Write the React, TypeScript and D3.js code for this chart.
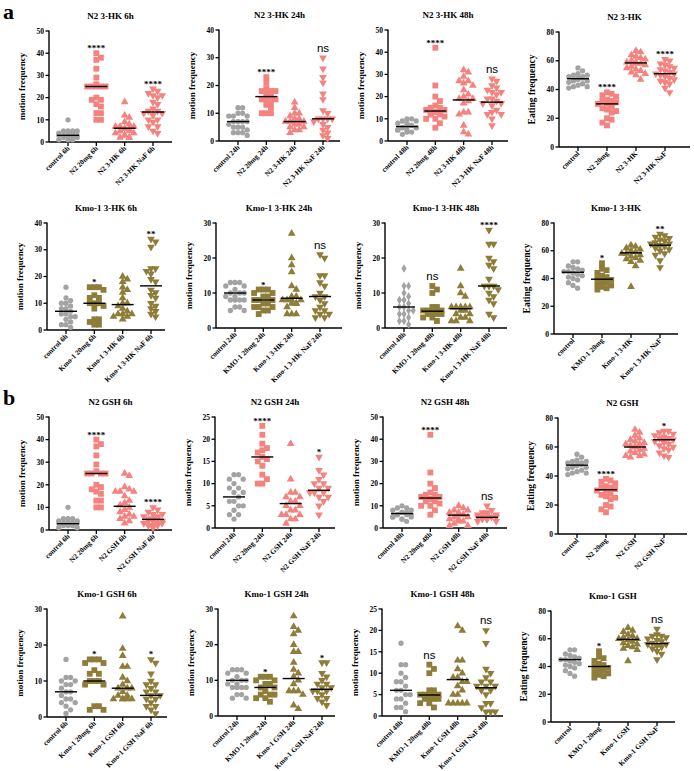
import * as d3 from "d3";

// ---- panel a, N2 3-HK ----
const n2Hk6hCats = ["control 6h", "N2 20mg 6h", "N2 3-HK 6h", "N2 3-HK NaF 6h"];
const n2Hk6hVals = [
  [10, 5, 5, 5, 5, 4, 4, 4, 3, 3, 3, 3, 3, 2, 2, 2, 2, 1, 1, 1],
  [40, 38, 37, 33, 29, 26, 25, 25, 25, 25, 25, 20, 19, 19, 17, 16, 13, 13, 10, 10],
  [18, 12, 11, 9, 8, 7, 7, 7, 6, 6, 6, 5, 5, 4, 4, 3, 3, 2, 2, 2],
  [24, 23, 22, 21, 21, 20, 18, 17, 15, 14, 14, 13, 13, 12, 10, 10, 9, 7, 7, 5, 4],
];
const n2Hk6hMed = [3, 25, 6.2, 13.5];
const n2Hk6hSig = ["", "****", "", "****"];

const n2Hk24hCats = ["control 24h", "N2 20mg 24h", "N2 3-HK 24h", "N2 3-HK NaF 24h"];
const n2Hk24hVals = [
  [12, 12, 10, 10, 9, 9, 9, 7, 7, 7, 7, 6, 5, 5, 5, 4, 3, 3, 3, 2],
  [23, 21, 19, 18, 18, 18, 17, 16, 15, 15, 15, 14, 13, 12, 10, 10, 10],
  [14, 12, 10, 10, 9, 8, 8, 7, 7, 7, 7, 6, 6, 5, 5, 4, 4, 3],
  [30, 26, 23, 21, 17, 15, 11, 10, 8, 8, 8, 8, 7, 6, 5, 4, 3, 2, 1],
];
const n2Hk24hMed = [7, 16, 7, 8];
const n2Hk24hSig = ["", "****", "", "ns"];

const n2Hk48hCats = ["control 48h", "N2 20mg 48h", "N2 3-HK 48h", "N2 3-HK NaF 48h"];
const n2Hk48hVals = [
  [10, 10, 9, 9, 8, 8, 7, 7, 7, 6, 6, 6, 6, 5, 5, 5, 4, 4, 3],
  [42, 25, 20, 18, 16, 15, 15, 14, 14, 13, 13, 13, 12, 12, 12, 11, 10, 10, 8, 6],
  [32, 31, 29, 27, 27, 26, 25, 23, 21, 20, 19, 19, 18, 17, 13, 13, 12, 7, 4, 3],
  [28, 27, 25, 24, 23, 22, 22, 21, 19, 19, 18, 17, 17, 16, 14, 13, 12, 12, 10, 7],
];
const n2Hk48hMed = [6.5, 13.5, 18.5, 17.5];
const n2Hk48hSig = ["", "****", "", "ns"];

const n2HkEatCats = ["control", "N2 20mg", "N2 3-HK", "N2 3-HK NaF"];
const n2HkEatVals = [
  [55, 53, 51, 50, 50, 49, 49, 48, 48, 47, 47, 46, 46, 45, 44, 43, 42, 42, 41],
  [38, 37, 36, 35, 33, 32, 32, 31, 30, 30, 28, 27, 26, 25, 24, 20, 19, 17, 15],
  [67, 66, 64, 63, 62, 61, 60, 59, 59, 58, 58, 57, 56, 55, 54, 53, 52, 51, 50, 47],
  [61, 60, 58, 57, 56, 55, 54, 53, 52, 51, 51, 50, 49, 48, 47, 46, 45, 44, 41, 38],
];
const n2HkEatMed = [47.5, 30, 58.5, 51];
const n2HkEatSig = ["", "****", "", "****"];

// ---- panel a, Kmo-1 3-HK ----
const kmoHk6hCats = ["control 6h", "Kmo-1 20mg 6h", "Kmo-1 3-HK 6h", "Kmo-1 3-HK NaF 6h"];
const kmoHk6hVals = [
  [16, 12, 11, 10, 10, 9, 8, 8, 7, 6, 6, 5, 5, 4, 3, 2, 2, 1],
  [16, 16, 16, 15, 13, 12, 12, 10, 10, 10, 9, 8, 4, 4, 3, 2, 2],
  [20, 19, 18, 16, 15, 14, 12, 10, 10, 9, 8, 7, 6, 6, 6, 5, 5, 4],
  [34, 33, 31, 23, 23, 22, 21, 19, 18, 15, 14, 13, 12, 10, 9, 8, 7, 6, 5],
];
const kmoHk6hMed = [7, 10, 9.5, 16.5];
const kmoHk6hSig = ["", "*", "", "**"];

const kmoHk24hCats = ["control 24h", "KMO-1 20mg 24h", "Kmo-1 3-HK 24h", "Kmo-1 3-HK NaF 24h"];
const kmoHk24hVals = [
  [13, 13, 13, 12, 12, 11, 10, 10, 10, 9, 9, 8, 8, 8, 8, 6, 6, 5, 5],
  [11, 11, 11, 10, 10, 9, 9, 8, 8, 8, 7, 7, 6, 6, 6, 5, 5, 4],
  [27, 20, 18, 16, 12, 11, 9, 9, 8, 8, 8, 8, 7, 7, 7, 6, 4, 4, 4],
  [21, 20, 15, 15, 13, 12, 10, 9, 9, 8, 7, 6, 5, 5, 4, 4, 3, 3],
];
const kmoHk24hMed = [10, 8, 8.5, 9];
const kmoHk24hSig = ["", "*", "", "ns"];

const kmoHk48hCats = ["control 48h", "KMO-1 20mg 48h", "Kmo-1 3-HK 48h", "Kmo-1 3-HK NaF 48h"];
const kmoHk48hVals = [
  [17, 12, 12, 10, 9, 8, 8, 7, 6, 6, 5, 5, 4, 4, 3, 2, 2, 1],
  [12, 11, 10, 6, 6, 5, 5, 5, 5, 5, 4, 4, 4, 4, 3, 3, 2],
  [17, 12, 10, 9, 6, 6, 6, 6, 6, 5, 5, 4, 4, 3, 3, 2, 2, 2],
  [28, 24, 24, 20, 19, 18, 17, 14, 12, 12, 12, 11, 10, 9, 8, 7, 4, 3],
];
const kmoHk48hMed = [6, 4.8, 5.5, 12];
const kmoHk48hSig = ["", "ns", "", "****"];

const kmoHkEatCats = ["control", "KMO-1 20mg", "Kmo-1 3-HK", "Kmo-1 3-HK NaF"];
const kmoHkEatVals = [
  [52, 52, 49, 48, 47, 46, 45, 45, 44, 44, 43, 42, 41, 40, 39, 37, 35, 33],
  [51, 47, 46, 44, 42, 41, 40, 39, 38, 37, 36, 35, 34, 33, 32],
  [64, 63, 62, 61, 60, 59, 58, 58, 57, 56, 55, 54, 53, 52, 49, 34],
  [72, 71, 70, 69, 68, 67, 66, 65, 65, 64, 64, 63, 62, 61, 60, 58, 57, 53, 48],
];
const kmoHkEatMed = [44.5, 39.5, 58.5, 64];
const kmoHkEatSig = ["", "*", "", "**"];

// ---- panel b, N2 GSH ----
const n2Gsh6hCats = ["control 6h", "N2 20mg 6h", "N2 GSH 6h", "N2 GSH NaF 6h"];
const n2Gsh6hVals = [
  [10, 5, 5, 5, 4, 4, 4, 3, 3, 3, 3, 3, 2, 2, 2, 2, 1, 1],
  [40, 38, 37, 33, 29, 26, 25, 25, 25, 25, 20, 19, 18, 17, 16, 13, 13, 10, 10],
  [25, 24, 19, 18, 17, 17, 17, 15, 13, 12, 11, 10, 9, 8, 7, 6, 6, 5, 4, 3],
  [10, 9, 8, 7, 7, 6, 6, 5, 5, 5, 4, 4, 4, 3, 3, 3, 2, 2, 2, 1],
];
const n2Gsh6hMed = [2.8, 25, 10.5, 4.7];
const n2Gsh6hSig = ["", "****", "", "****"];

const n2Gsh24hCats = ["control 24h", "N2 20mg 24h", "N2 GSH 24h", "N2 GSH NaF 24h"];
const n2Gsh24hVals = [
  [12, 12, 11, 11, 10, 9, 9, 8, 8, 7, 6, 6, 5, 5, 4, 3, 3, 2],
  [23, 21, 19, 18, 17.5, 17, 16, 15.5, 15, 14, 12, 11, 10, 10],
  [19, 11, 8, 8, 7, 7, 6, 6, 5, 5, 4, 4, 3, 3, 3, 2, 2, 1],
  [16, 13, 12, 11, 10, 10, 9, 9, 8, 8, 8, 7, 7, 6, 5, 3],
];
const n2Gsh24hMed = [7, 16, 5.5, 8.5];
const n2Gsh24hSig = ["", "****", "", "*"];

const n2Gsh48hCats = ["control 48h", "N2 20mg 48h", "N2 GSH 48h", "N2 GSH NaF 48h"];
const n2Gsh48hVals = [
  [10, 9, 9, 8, 8, 7, 7, 7, 6, 6, 6, 6, 5, 5, 5, 4, 4, 3],
  [42, 25, 20, 18, 16, 15, 15, 14, 14, 13, 13, 13, 12, 12, 11, 10, 10, 8, 6],
  [10, 9, 8, 8, 7, 7, 6, 6, 6, 5, 5, 4, 4, 3, 3, 2, 1, 1],
  [10, 8, 7, 7, 6, 6, 6, 5, 5, 5, 5, 5, 4, 4, 4, 3, 3],
];
const n2Gsh48hMed = [6.5, 13.5, 5.8, 4.8];
const n2Gsh48hSig = ["", "****", "", "ns"];

const n2GshEatCats = ["control", "N2 20mg", "N2 GSH", "N2 GSH NaF"];
const n2GshEatVals = [
  [55, 53, 51, 50, 50, 49, 49, 48, 48, 47, 47, 46, 46, 45, 44, 43, 42, 42, 41],
  [38, 37, 36, 35, 33, 32, 32, 31, 30, 30, 28, 27, 26, 25, 24, 20, 19, 17, 15],
  [72, 70, 68, 66, 65, 64, 63, 62, 62, 61, 60, 60, 59, 58, 57, 56, 55, 54, 54, 53],
  [71, 71, 70, 69, 68, 67, 66, 66, 65, 65, 64, 63, 62, 61, 60, 59, 58, 56, 54, 53],
];
const n2GshEatMed = [47.5, 30.5, 60, 65];
const n2GshEatSig = ["", "****", "", "*"];

// ---- panel b, Kmo-1 GSH ----
const kmoGsh6hCats = ["control 6h", "Kmo-1 20mg 6h", "Kmo-1 GSH 6h", "Kmo-1 GSH NaF 6h"];
const kmoGsh6hVals = [
  [16, 11, 11, 10, 10, 9, 9, 8, 7, 7, 6, 5, 5, 4, 4, 3, 2, 1],
  [16, 16, 16, 15, 15, 13, 12, 12, 10, 10, 10, 9, 9, 3, 3, 2, 2],
  [28, 19, 17, 14, 14, 11, 10, 9, 8, 8, 8, 7, 6, 6, 5, 5, 5, 5, 5],
  [16, 15, 12, 10, 9, 9, 8, 7, 7, 6, 6, 5, 5, 4, 3, 3, 2, 1],
];
const kmoGsh6hMed = [7, 10, 8, 6];
const kmoGsh6hSig = ["", "*", "", "*"];

const kmoGsh24hCats = ["control 24h", "KMO-1 20mg 24h", "Kmo-1 GSH 24h", "Kmo-1 GSH NaF 24h"];
const kmoGsh24hVals = [
  [13, 13, 13, 12, 12, 11, 10, 10, 10, 9, 9, 8, 8, 8, 8, 6, 6, 5, 5],
  [11, 11, 11, 10, 10, 9, 9, 8, 8, 7, 6, 6, 6, 5, 5, 4],
  [28, 25, 24, 23, 20, 18, 18, 15, 13, 12, 11, 10, 9, 7, 7, 7, 6, 3, 2],
  [15, 15, 12, 11, 10, 9, 9, 8, 8, 7, 7, 7, 6, 5, 5, 4, 3],
];
const kmoGsh24hMed = [10, 8, 10.5, 7.5];
const kmoGsh24hSig = ["", "*", "", "*"];

const kmoGsh48hCats = ["control 48h", "KMO-1 20mg 48h", "Kmo-1 GSH 48h", "Kmo-1 GSH NaF 48h"];
const kmoGsh48hVals = [
  [17, 12, 12, 10, 9, 8, 8, 7, 6, 6, 5, 5, 4, 4, 3, 2, 2, 1],
  [12, 11, 10, 6, 6, 5, 5, 5, 5, 5, 4, 4, 4, 4, 3, 3, 2],
  [21, 20, 13, 13, 11, 10, 9, 9, 8, 8, 7, 6, 5, 5, 3, 3, 3, 3, 3],
  [20, 17, 11, 10, 9, 8, 8, 7, 7, 7, 6, 6, 5, 3, 3, 2, 1, 1, 1],
];
const kmoGsh48hMed = [6, 4.9, 8.5, 6.6];
const kmoGsh48hSig = ["", "ns", "", "ns"];

const kmoGshEatCats = ["control", "KMO-1 20mg", "Kmo-1 GSH", "Kmo-1 GSH NaF"];
const kmoGshEatVals = [
  [52, 52, 49, 48, 47, 46, 45, 45, 44, 44, 43, 42, 41, 40, 39, 37, 35, 33],
  [51, 47, 46, 44, 42, 41, 40, 39, 38, 37, 36, 35, 34, 33, 32],
  [68, 66, 65, 63, 62, 61, 60, 60, 59, 58, 57, 56, 55, 54, 53, 52, 44],
  [67, 63, 62, 62, 61, 60, 59, 58, 57, 56, 56, 55, 55, 54, 53, 51, 49, 45],
];
const kmoGshEatMed = [45, 40, 59.5, 56.5];
const kmoGshEatSig = ["", "*", "", "ns"];

const GRAY = "#a3a3a3";
const SALMON = "#f4827e";
const OLIVE = "#8e7c39";
const SERIF = "'Liberation Serif', 'Times New Roman', serif";

type Panel = {
  title: string;
  cats: string[];
  vals: number[][];
  med: number[];
  sig: string[];
  yMax: number;
  step: number;
  eating?: boolean;
  color: string;
  ctrlShape?: d3.SymbolType;
};

const panels: Panel[][] = [
  [
    { title: "N2 3-HK 6h", cats: n2Hk6hCats, vals: n2Hk6hVals, med: n2Hk6hMed, sig: n2Hk6hSig, yMax: 50, step: 10, color: SALMON },
    { title: "N2 3-HK 24h", cats: n2Hk24hCats, vals: n2Hk24hVals, med: n2Hk24hMed, sig: n2Hk24hSig, yMax: 40, step: 10, color: SALMON },
    { title: "N2 3-HK 48h", cats: n2Hk48hCats, vals: n2Hk48hVals, med: n2Hk48hMed, sig: n2Hk48hSig, yMax: 50, step: 10, color: SALMON },
    { title: "N2 3-HK", cats: n2HkEatCats, vals: n2HkEatVals, med: n2HkEatMed, sig: n2HkEatSig, yMax: 80, step: 20, eating: true, color: SALMON },
  ],
  [
    { title: "Kmo-1 3-HK 6h", cats: kmoHk6hCats, vals: kmoHk6hVals, med: kmoHk6hMed, sig: kmoHk6hSig, yMax: 40, step: 10, color: OLIVE },
    { title: "Kmo-1 3-HK 24h", cats: kmoHk24hCats, vals: kmoHk24hVals, med: kmoHk24hMed, sig: kmoHk24hSig, yMax: 30, step: 10, color: OLIVE },
    { title: "Kmo-1 3-HK 48h", cats: kmoHk48hCats, vals: kmoHk48hVals, med: kmoHk48hMed, sig: kmoHk48hSig, yMax: 30, step: 10, color: OLIVE, ctrlShape: d3.symbolDiamond },
    { title: "Kmo-1 3-HK", cats: kmoHkEatCats, vals: kmoHkEatVals, med: kmoHkEatMed, sig: kmoHkEatSig, yMax: 80, step: 20, eating: true, color: OLIVE },
  ],
  [
    { title: "N2 GSH 6h", cats: n2Gsh6hCats, vals: n2Gsh6hVals, med: n2Gsh6hMed, sig: n2Gsh6hSig, yMax: 50, step: 10, color: SALMON },
    { title: "N2 GSH 24h", cats: n2Gsh24hCats, vals: n2Gsh24hVals, med: n2Gsh24hMed, sig: n2Gsh24hSig, yMax: 25, step: 5, color: SALMON },
    { title: "N2 GSH 48h", cats: n2Gsh48hCats, vals: n2Gsh48hVals, med: n2Gsh48hMed, sig: n2Gsh48hSig, yMax: 50, step: 10, color: SALMON },
    { title: "N2 GSH", cats: n2GshEatCats, vals: n2GshEatVals, med: n2GshEatMed, sig: n2GshEatSig, yMax: 80, step: 20, eating: true, color: SALMON },
  ],
  [
    { title: "Kmo-1 GSH 6h", cats: kmoGsh6hCats, vals: kmoGsh6hVals, med: kmoGsh6hMed, sig: kmoGsh6hSig, yMax: 30, step: 10, color: OLIVE },
    { title: "Kmo-1 GSH 24h", cats: kmoGsh24hCats, vals: kmoGsh24hVals, med: kmoGsh24hMed, sig: kmoGsh24hSig, yMax: 30, step: 10, color: OLIVE },
    { title: "Kmo-1 GSH 48h", cats: kmoGsh48hCats, vals: kmoGsh48hVals, med: kmoGsh48hMed, sig: kmoGsh48hSig, yMax: 25, step: 5, color: OLIVE },
    { title: "Kmo-1 GSH", cats: kmoGshEatCats, vals: kmoGshEatVals, med: kmoGshEatMed, sig: kmoGshEatSig, yMax: 80, step: 20, eating: true, color: OLIVE },
  ],
];

// plot frames: [axis x, top y, bottom y, x-axis length]
const frames = [
  [[49, 31, 142, 123], [219, 30, 141, 121], [388, 30, 141, 120], [559, 32, 147, 131]],
  [[47, 223, 330, 118], [216, 223, 328, 126], [385, 223, 328, 122], [554, 223, 334, 124]],
  [[49, 417, 530, 123], [215, 417, 528, 120], [383, 417, 528, 124], [558, 418, 534, 129]],
  [[47, 609, 717, 120], [218, 609, 716, 117], [382, 609, 716, 121], [551, 611, 722, 124]],
];

const SIZE = 5.8;
const STEP = 4.6;
const MAX_K = 4;

// spread equal/close values sideways; once a row is full, markers pile up
function swarm(values: number[], y: (v: number) => number) {
  const placed: { dx: number; y: number }[] = [];
  const sorted = [...values].sort((a, b) => b - a);
  const offset = (k: number) => (k === 0 ? 0 : (k % 2 ? 1 : -1) * Math.ceil(k / 2) * STEP);
  for (const v of sorted) {
    const py = y(v);
    let best = 0;
    let bestHits = Infinity;
    for (let k = 0; k <= MAX_K; k++) {
      const dx = offset(k);
      const hits = placed.filter((p) => Math.abs(p.y - py) < SIZE * 0.85 && Math.abs(p.dx - dx) < STEP * 0.99).length;
      if (hits < bestHits) {
        bestHits = hits;
        best = dx;
      }
      if (hits === 0) break;
    }
    placed.push({ dx: best, y: py });
  }
  return placed;
}

const shapes = [d3.symbolCircle, d3.symbolSquare, d3.symbolTriangle, d3.symbolTriangle];
const areas = [22, 34, 26, 26];

function DotPanel({ p, frame }: { p: Panel; frame: number[] }) {
  const [x0, top, bottom, len] = frame;
  const y = d3.scaleLinear().domain([0, p.yMax]).range([bottom, top]);
  const x = d3.scalePoint<string>().domain(p.cats).range([x0 + 19, x0 + 19 + (p.eating ? 87 : 85)]);
  const ticks = d3.range(0, p.yMax + 0.001, p.step);
  const midX = x0 + len / 2;

  return (
    <g>
      <text x={midX} y={top - 12} textAnchor="middle" fontFamily={SERIF} fontWeight="bold" fontSize={9}>
        {p.title}
      </text>
      <text
        transform={`translate(${x0 - 24},${(top + bottom) / 2}) rotate(-90)`}
        textAnchor="middle"
        fontFamily={SERIF}
        fontWeight="bold"
        fontSize={p.eating ? 9.5 : 9}
      >
        {p.eating ? "Eating frequency" : "motion frequency"}
      </text>
      {/* y axis */}
      <line x1={x0} x2={x0} y1={top - 0.5} y2={bottom} stroke="#000" strokeWidth={1.4} />
      {ticks.map((t) => (
        <g key={t}>
          <line x1={x0 - 3.5} x2={x0} y1={y(t)} y2={y(t)} stroke="#000" strokeWidth={1.3} />
          <text x={x0 - 5} y={y(t) + 2.7} textAnchor="end" fontFamily={SERIF} fontWeight="bold" fontSize={7.5}>
            {t}
          </text>
        </g>
      ))}
      {/* x axis */}
      <line x1={x0} x2={x0 + len} y1={bottom} y2={bottom} stroke="#000" strokeWidth={1.4} />
      {p.cats.map((c) => (
        <g key={c}>
          <line x1={x(c)} x2={x(c)} y1={bottom} y2={bottom + 4} stroke="#000" strokeWidth={1.3} />
          <text
            transform={`translate(${(x(c) ?? 0) + 2},${bottom + 7}) rotate(-45)`}
            textAnchor="end"
            fontFamily={SERIF}
            fontWeight="bold"
            fontSize={7.2}
          >
            {c}
          </text>
        </g>
      ))}
      {p.vals.map((vals, gi) => {
        const cx = x(p.cats[gi]) ?? 0;
        const fill = gi === 0 ? GRAY : p.color;
        const type = gi === 0 && p.ctrlShape ? p.ctrlShape : shapes[gi];
        const path = d3.symbol(type, areas[gi])() ?? "";
        const pts = swarm(vals, y);
        const top = y(d3.max(vals) ?? 0);
        return (
          <g key={gi}>
            {pts.map((pt, i) => (
              <path
                key={i}
                d={path}
                fill={fill}
                transform={`translate(${cx + pt.dx},${pt.y})${gi === 3 ? " rotate(180)" : ""}`}
              />
            ))}
            <line x1={cx - 11} x2={cx + 11} y1={y(p.med[gi])} y2={y(p.med[gi])} stroke="#000" strokeWidth={1.4} />
            {p.sig[gi] === "ns" ? (
              <text x={cx} y={top - 6} textAnchor="middle" fontFamily="'Liberation Sans', Arial, sans-serif" fontSize={11.5}>
                ns
              </text>
            ) : p.sig[gi] ? (
              <text x={cx} y={top - 2} textAnchor="middle" fontFamily={SERIF} fontWeight="bold" fontSize={9}>
                {p.sig[gi]}
              </text>
            ) : null}
          </g>
        );
      })}
    </g>
  );
}

export default function App() {
  return (
    <svg
      width={694}
      height={771}
      style={{ position: "absolute", left: 0, top: 0, background: "#fff" }}
    >
      <rect width={694} height={771} fill="#fff" />
      <text x={3} y={19} fontFamily={SERIF} fontWeight="bold" fontSize={22}>
        a
      </text>
      <text x={3} y={405} fontFamily={SERIF} fontWeight="bold" fontSize={22}>
        b
      </text>
      {panels.map((row, ri) =>
        row.map((p, ci) => <DotPanel key={`${ri}-${ci}`} p={p} frame={frames[ri][ci]} />)
      )}
    </svg>
  );
}
